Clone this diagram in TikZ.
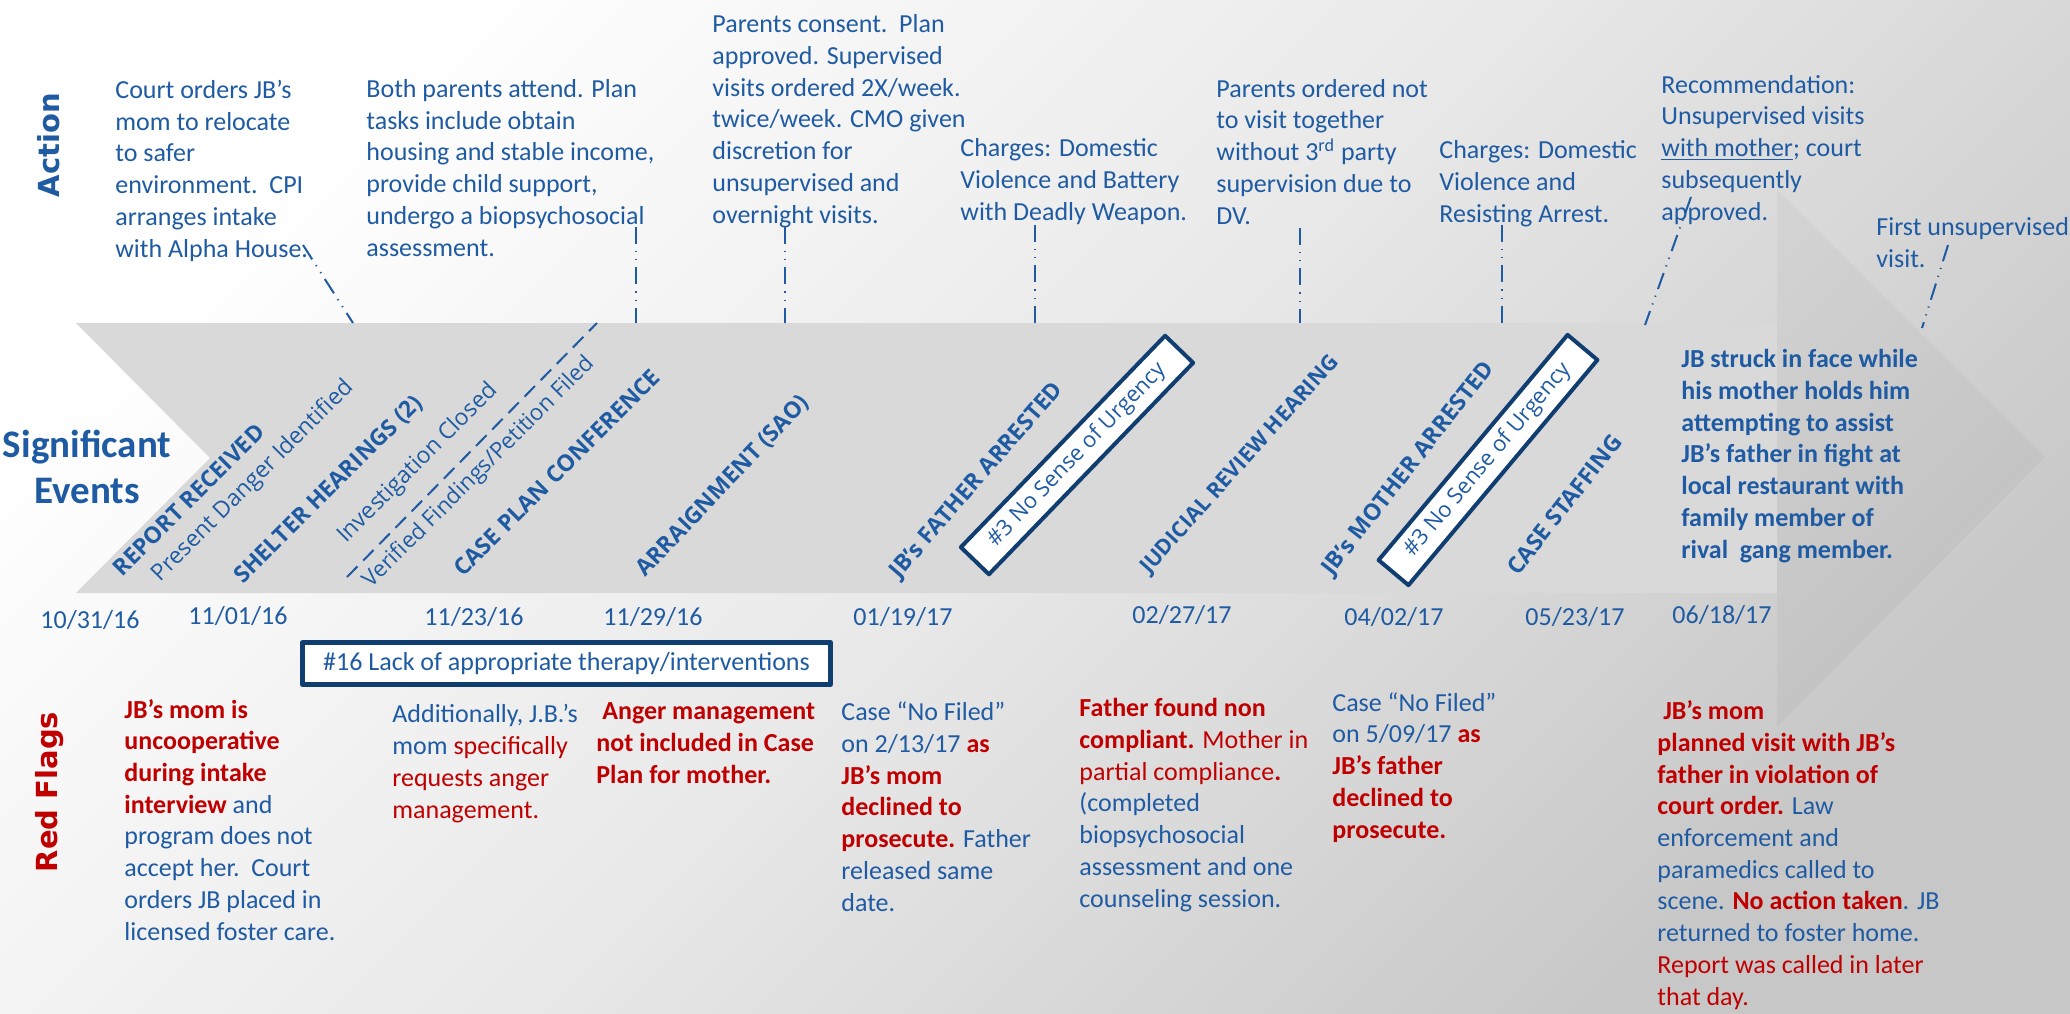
\documentclass[tikz,border=0pt]{standalone}
\usepackage{fontspec}
\setmainfont{Carlito}
\newfontfamily\evfont{Open Sans}
\newfontfamily\lanefont{DejaVu Sans}
\definecolor{evblue}{RGB}{31,91,163}
\definecolor{boxblue}{RGB}{16,62,112}
\definecolor{flagred}{RGB}{192,0,0}
\definecolor{bodygray}{RGB}{217,217,217}
\newcommand{\redbold}[1]{\textcolor{flagred}{\textbf{#1}}}
\newcommand{\redtxt}[1]{\textcolor{flagred}{#1}}
\tikzset{
  txt/.style={font=\fontsize{13}{15.85}\selectfont, text=evblue, align=left, anchor=base west, inner sep=0pt},
  ev/.style={font=\evfont\bfseries\fontsize{11.5}{13}\selectfont, text=evblue, anchor=base west, inner sep=0pt},
  evsub/.style={font=\evfont\fontsize{11.5}{13}\selectfont, text=evblue, anchor=base west, inner sep=0pt},
  lane/.style={font=\lanefont\bfseries\fontsize{14.5}{17}\selectfont, rotate=90},
  urgbox/.style={draw=boxblue, line width=2pt, fill=white, minimum width=147pt, minimum height=19.5pt, inner sep=1pt, font=\evfont\fontsize{11}{12}\selectfont, text=evblue},
  lackbox/.style={draw=boxblue, line width=2.5pt, fill=white, minimum width=264pt, minimum height=21pt, inner sep=1pt, font=\fontsize{13}{15.85}\selectfont, text=evblue},
  link/.style={evblue, line width=1pt, dash pattern=on 8.5pt off 3.5pt on 0.6pt off 3.5pt on 0.6pt off 3.5pt}
}
\begin{document}
\begin{tikzpicture}[x=0.5pt, y=-0.5pt, line join=round]
  \shade[top color=white, bottom color=black!22, middle color=black!9, shading angle=45] (0,0) rectangle (2070,1013);
  \useasboundingbox (0,0) rectangle (2070,1013);
  \fill[bodygray] (76,323)--(1777,323)--(1777,593)--(76,593)--(210,458)--cycle;
  \fill[black,opacity=0.03] (1777,190)--(2045,457)--(1777,727)--cycle;

  \node[lane, text=evblue] (action) at (49,145) {Action};
  \node[font=\bfseries\fontsize{19.5}{23}\selectfont, text=evblue, align=center, anchor=base, inner sep=0pt] (sig) at (87,503) {Significant\\Events};
  \node[lane, text=flagred] (flags) at (50,792) {Red Flags};

  \node[txt] (a1) at (115,257) {Court orders JB’s\\mom to relocate\\to safer\\environment.\ \ CPI\\arranges intake\\with Alpha House.};
  \node[txt] (a2) at (366,256) {Both parents attend. Plan\\tasks include obtain\\housing and stable income,\\provide child support,\\undergo a biopsychosocial\\assessment.};
  \node[txt] (a3) at (712,223) {Parents consent.\ \ Plan\\approved. Supervised\\visits ordered 2X/week.\\twice/week. CMO given\\discretion for\\unsupervised and\\overnight visits.};
  \node[txt] (a4) at (960,220) {Charges: Domestic\\Violence and Battery\\with Deadly Weapon.};
  \node[txt] (a5) at (1216,224) {Parents ordered not\\to visit together\\without 3\textsuperscript{rd} party\\supervision due to\\DV.};
  \node[txt] (a6) at (1439,222) {Charges: Domestic\\Violence and\\Resisting Arrest.};
  \node[txt] (a7) at (1661,220) {Recommendation:\\Unsupervised visits\\\underline{with mother}; court\\subsequently\\approved.};
  \node[txt] (a8) at (1876,267) {First unsupervised\\visit.};

  \coordinate (k1) at (303,245); \coordinate (t1) at (353,323);
  \coordinate (k2) at (636,227); \coordinate (t2) at (636,323);
  \coordinate (k3) at (785,227); \coordinate (t3) at (785,323);
  \coordinate (k4) at (1035,225); \coordinate (t4) at (1035,323);
  \coordinate (k5) at (1300,228); \coordinate (t5) at (1300,323);
  \coordinate (k6) at (1502,225); \coordinate (t6) at (1502,323);
  \coordinate (k7) at (1691,197); \coordinate (t7) at (1645,325);
  \coordinate (k8) at (1948,245); \coordinate (t8) at (1922,328);
  \foreach \i in {1,...,8}
    \draw[link] (k\i) -- (t\i);

  \coordinate (ic1) at (347,577); \coordinate (ic2) at (597,323);
  \draw[evblue, line width=1pt, dash pattern=on 7.5pt off 4pt] (ic1) -- (ic2);

  \node[ev, rotate=45] (e1) at (122,578) {REPORT RECEIVED};
  \node[evsub, rotate=45] (e1b) at (160,583) {Present Danger Identified};
  \node[ev, rotate=45] (e2) at (243,585) {SHELTER HEARINGS (2)};
  \node[evsub, rotate=45] (e3) at (346,544) {Investigation Closed};
  \node[evsub, rotate=45, font=\evfont\fontsize{11.2}{13}\selectfont] (e3b) at (371,589) {Verified Findings/Petition Filed};
  \node[ev, rotate=45] (e4) at (463,578) {CASE PLAN CONFERENCE};
  \node[ev, rotate=46.5] (e5) at (645,578) {ARRAIGNMENT (SAO)};
  \node[ev, rotate=49] (e6) at (899,580) {JB’s FATHER ARRESTED};
  \node[urgbox, rotate=46] (nsu1) at (1077,455) {\#3 No Sense of Urgency};
  \node[ev, rotate=48, font=\evfont\bfseries\fontsize{10.8}{13}\selectfont] (e7) at (1149,575) {JUDICIAL REVIEW HEARING};
  \node[ev, rotate=52] (e8) at (1332,577) {JB’s MOTHER ARRESTED};
  \node[urgbox, rotate=50] (nsu2) at (1488,460) {\#3 No Sense of Urgency};
  \node[ev, rotate=52] (e9) at (1518,577) {CASE STAFFING};
  \node[txt, font=\bfseries\fontsize{13}{15.85}\selectfont] (struck) at (1681,558) {JB struck in face while\\his mother holds him\\attempting to assist\\JB’s father in fight at\\local restaurant with\\family member of\\rival\ \ gang member.};

  \node[txt] (d1) at (40,628) {10/31/16};
  \node[txt] (d2) at (188,624) {11/01/16};
  \node[txt] (d3) at (424,625) {11/23/16};
  \node[txt] (d4) at (603,625) {11/29/16};
  \node[txt] (d5) at (853,625) {01/19/17};
  \node[txt] (d6) at (1132,623) {02/27/17};
  \node[txt] (d7) at (1344,625) {04/02/17};
  \node[txt] (d8) at (1525,625) {05/23/17};
  \node[txt] (d9) at (1672,623) {06/18/17};

  \node[lackbox] (lack) at (566.5,663.5) {\#16 Lack of appropriate therapy/interventions};

  \node[txt] (r1) at (124,940) {\redbold{JB’s mom is}\\\redbold{uncooperative}\\\redbold{during intake}\\\redbold{interview} and\\program does not\\accept her.\ \ Court\\orders JB placed in\\licensed foster care.};
  \node[txt] (r2) at (392,818) {Additionally, J.B.’s\\mom \redtxt{specifically}\\\redtxt{requests anger}\\\redtxt{management.}};
  \node[txt] (r3) at (596,783) {\redbold{\ Anger management}\\\redbold{not included in Case}\\\redbold{Plan for mother.}};
  \node[txt] (r4) at (841,911) {Case “No Filed”\\on 2/13/17 \redbold{as}\\\redbold{JB’s mom}\\\redbold{declined to}\\\redbold{prosecute.} Father\\released same\\date.};
  \node[txt] (r5) at (1079,907) {\redbold{Father found non}\\\redbold{compliant.} \redtxt{Mother in}\\\redtxt{partial compliance}\redbold{.}\\(completed\\biopsychosocial\\assessment and one\\counseling session.};
  \node[txt] (r6) at (1332,838) {Case “No Filed”\\on 5/09/17 \redbold{as}\\\redbold{JB’s father}\\\redbold{declined to}\\\redbold{prosecute.}};
  \node[txt] (r7) at (1657,1005) {\redbold{\ JB’s mom}\\\redbold{planned visit with JB’s}\\\redbold{father in violation of}\\\redbold{court order.} Law\\enforcement and\\paramedics called to\\scene. \redbold{No action taken}. JB\\returned to foster home.\\\redtxt{Report was called in later}\\\redtxt{that day.}};
\end{tikzpicture}
\end{document}
